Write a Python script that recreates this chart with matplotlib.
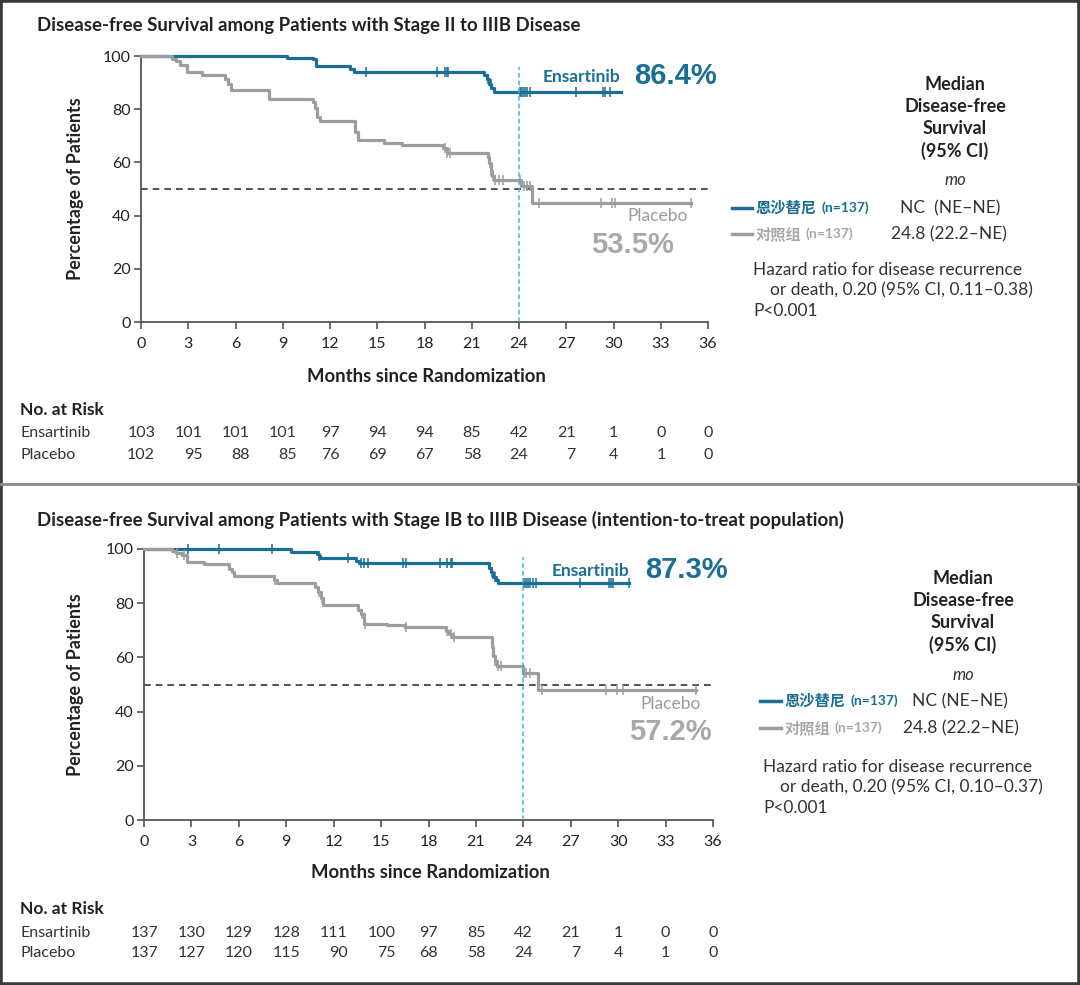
import numpy as np
import matplotlib
matplotlib.use("Agg")
import matplotlib.pyplot as plt
from matplotlib import font_manager as fm
from matplotlib.transforms import blended_transform_factory
from matplotlib.patches import Rectangle
from matplotlib.lines import Line2D

# ---------------- Daten ----------------
month_ticks = list(range(0, 37, 3))
pct_ticks = [0, 20, 40, 60, 80, 100]

# Panel A: Stage II bis IIIB
ens_a_t = [0, 9.3, 10.9, 11.1, 13.3, 13.5, 21.8, 21.95, 22.1, 22.25, 22.4, 30.5]
ens_a_s = [100, 99.3, 98.8, 96.1, 95.0, 94.0, 92.8, 91.2, 89.5, 87.8, 86.4, 86.4]
ens_a_cens = [14.3, 18.8, 19.3, 19.4, 19.5, 22.0, 22.2, 24.05, 24.15, 24.25, 24.35,
              24.5, 24.7, 27.6, 29.35, 29.45, 29.8]
pbo_a_t = [0, 1.95, 2.2, 2.5, 2.9, 3.9, 5.35, 5.5, 5.7, 8.1, 10.9, 11.05, 11.2, 11.35,
           13.6, 13.75, 15.4, 16.6, 19.2, 19.4, 22.0, 22.1, 22.2, 22.3, 22.4, 24.1,
           24.85, 34.9]
pbo_a_s = [100, 99.0, 98.0, 96.5, 94.0, 93.0, 91.5, 89.5, 87.1, 84.0, 82.8, 80.3, 76.9,
           75.5, 71.5, 68.4, 67.4, 66.4, 65.3, 63.4, 62.2, 59.7, 56.6, 55.0, 53.5, 51.0,
           44.9, 44.9]
pbo_a_cens = [19.3, 19.45, 19.6, 22.15, 22.25, 22.35, 22.5, 22.7, 23.0, 24.05, 24.3,
              24.5, 24.7, 25.3, 29.2, 29.9, 30.1, 34.9]
risk_a_ens = [103, 101, 101, 101, 97, 94, 94, 85, 42, 21, 1, 0, 0]
risk_a_pbo = [102, 95, 88, 85, 76, 69, 67, 58, 24, 7, 4, 1, 0]

# Panel B: Stage IB bis IIIB (ITT)
ens_b_t = [0, 9.27, 10.96, 11.05, 11.15, 13.4, 13.6, 21.8, 21.95, 22.1, 22.25, 22.4, 30.7]
ens_b_s = [100, 99.0, 98.2, 97.4, 96.6, 95.5, 94.7, 93.0, 91.4, 89.8, 88.5, 87.3, 87.3]
ens_b_cens = [2.8, 4.75, 8.1, 11.1, 12.9, 13.7, 13.9, 14.2, 16.4, 16.6, 18.7, 19.2, 19.4,
              19.5, 22.0, 22.2, 24.05, 24.15, 24.3, 24.45, 24.6, 24.8, 27.6, 29.4, 29.55,
              29.7, 30.7]
pbo_b_t = [0, 1.8, 2.05, 2.4, 2.75, 3.8, 5.4, 5.55, 5.7, 8.2, 8.4, 10.85, 11.0, 11.2,
           11.3, 13.55, 13.7, 13.9, 15.4, 16.5, 19.1, 19.3, 19.5, 22.0, 22.1, 22.2,
           22.35, 24.0, 24.9, 34.9]
pbo_b_s = [100, 99.1, 98.5, 97.9, 95.1, 94.5, 92.6, 91.4, 90.1, 88.5, 87.3, 85.8, 84.0,
           82.1, 79.3, 77.5, 76.0, 72.5, 71.9, 71.1, 69.8, 68.6, 67.4, 63.7, 60.6, 58.7,
           56.9, 54.4, 48.0, 48.0]
pbo_b_cens = [2.1, 2.5, 8.3, 11.1, 11.25, 13.8, 14.0, 16.6, 19.2, 19.4, 19.6, 22.2, 22.3,
              22.4, 22.6, 24.05, 24.2, 24.4, 25.2, 29.2, 29.9, 30.3, 34.9]
risk_b_ens = [137, 130, 129, 128, 111, 100, 97, 85, 42, 21, 1, 0, 0]
risk_b_pbo = [137, 127, 120, 115, 90, 75, 68, 58, 24, 7, 4, 1, 0]

# ---------------- Stil ----------------
W, H = 1080, 985
BLUE = "#1b6e95"
GREY = "#9d9d9d"
GREY_TXT = "#a8a8a8"
DARK = "#222222"
SPINE = "#555555"
CYAN = "#45b5c8"

_names = {f.name for f in fm.fontManager.ttflist}
BASE = "Lato" if "Lato" in _names else "DejaVu Sans"
BIG = "Liberation Sans Narrow" if "Liberation Sans Narrow" in _names else "Liberation Sans"
CJK = "Noto Sans CJK SC"
plt.rcParams["font.family"] = [BASE, CJK, "DejaVu Sans"]

fig = plt.figure(figsize=(W / 100, H / 100), dpi=100)
fig.patch.set_facecolor("white")


def fx(x):
    return x / W


def fy(y):
    return 1 - y / H


def ftext(x, y, s, **kw):
    kw.setdefault("color", DARK)
    kw.setdefault("va", "center")
    return fig.text(fx(x), fy(y), s, **kw)


def surv_at(t, s, c):
    i = np.searchsorted(t, c, side="right") - 1
    return np.asarray(s)[i]


def draw_panel(box, title, title_y, xlab_y, risk_y, ens, pbo, risk, vline_top,
               lab, side):
    left, top, right, bottom = box
    ax = fig.add_axes([fx(left), fy(bottom), fx(right - left), (bottom - top) / H])
    ftext(37, title_y, title, fontsize=13.4, fontweight="bold", ha="left")

    # Kurven: blau zuerst, grau darüber (wie im Original 0-2 Monate)
    for (t, s, cens), col in ((ens, BLUE), (pbo, GREY)):
        ax.step(t, s, where="post", color=col, lw=2.3, clip_on=False, zorder=3)
        cy = surv_at(np.asarray(t), s, np.asarray(cens))
        ax.plot(cens, cy, ls="none", marker="|", ms=7, mew=1.1, color=col,
                clip_on=False, zorder=4)

    ax.axhline(50, color="#333333", lw=1.2, ls=(0, (4, 3)), zorder=2)
    ax.plot([24, 24], [0, vline_top], color=CYAN, lw=1.1, ls=(0, (3, 2)), zorder=5)

    ax.set_xlim(0, 36)
    ax.set_ylim(0, 100)
    ax.set_xticks(month_ticks)
    ax.set_yticks(pct_ticks)
    for sp in ("top", "right"):
        ax.spines[sp].set_visible(False)
    for sp in ("left", "bottom"):
        ax.spines[sp].set_color(SPINE)
        ax.spines[sp].set_linewidth(1.3)
    ax.tick_params(direction="out", length=5, width=1.2, color=SPINE,
                   labelsize=11.5, labelcolor=DARK, pad=2.5)
    ax.tick_params(axis="x", pad=5.5)
    ax.set_facecolor("none")

    ftext(75, (top + bottom) / 2, "Percentage of Patients", fontsize=13,
          fontweight="bold", rotation=90, ha="center")
    ftext((left + right) / 2 + 2, xlab_y, "Months since Randomization", fontsize=13.3,
          fontweight="bold", ha="center")

    # No. at Risk
    ftext(20, risk_y[0], "No. at Risk", fontsize=12.5, fontweight="bold", ha="left")
    tr = blended_transform_factory(ax.transData, fig.transFigure)
    for row, (name, vals) in enumerate((("Ensartinib", risk[0]), ("Placebo", risk[1]))):
        y = risk_y[row + 1]
        ftext(20, y, name, fontsize=11.5, ha="left", color="#333333")
        for k, m in enumerate(month_ticks):
            nd = max(len(str(risk[0][k])), len(str(risk[1][k])))
            ax.annotate(str(vals[k]), xy=(m, fy(y)), xycoords=tr,
                        xytext=(nd * 3.4, 0), textcoords="offset points",
                        ha="right", va="center", fontsize=11.5, color="#333333",
                        annotation_clip=False)

    # Beschriftungen im Plot
    ftext(*lab["ens"], "Ensartinib", fontsize=12.5, fontweight="bold", color=BLUE,
          ha="right")
    ftext(*lab["ens_pct"], lab["ens_val"], fontsize=21, fontweight="bold", color=BLUE,
          ha="left", family=BIG)
    ftext(*lab["pbo"], "Placebo", fontsize=12.5, color="#9a9a9a", ha="right")
    ftext(*lab["pbo_pct"], lab["pbo_val"], fontsize=21, fontweight="bold",
          color=GREY_TXT, ha="right", family=BIG)

    # Rechte Seite: Median / Legende / HR
    cx, hy = side["cx"], side["hy"]
    for i, s in enumerate(["Median", "Disease-free", "Survival", "(95% CI)"]):
        ftext(cx, hy[i], s, fontsize=13, fontweight="bold", ha="center")
    ftext(cx, side["mo_y"], "mo", fontsize=12, style="italic", ha="center",
          color="#333333")
    lx0, lx1, tx = side["lx"]
    for (y, col, cn, n, val, vx, w) in (
            (side["ly"][0], BLUE, "恩沙替尼", "(n=137)", side["ens_val"], side["vx"][0], BLUE),
            (side["ly"][1], GREY, "对照组", "(n=137)", "24.8 (22.2–NE)", side["vx"][1], GREY_TXT)):
        fig.add_artist(Line2D([fx(lx0), fx(lx1)], [fy(y), fy(y)], color=col, lw=2.5))
        ftext(tx, y, cn, fontsize=11, fontweight="bold", color=w, ha="left",
              family=[CJK, "DejaVu Sans"])
        ftext(tx + len(cn) * 15.3 + 4, y, n, fontsize=10, fontweight="bold",
              color=w, ha="left")
        ftext(vx, y, val, fontsize=12.5, ha="left", color="#333333")
    hx, hyy = side["hx"], side["hr_y"]
    ftext(hx, hyy[0], "Hazard ratio for disease recurrence", fontsize=12.5, ha="left",
          color="#333333")
    ftext(hx + 17, hyy[1], side["hr"], fontsize=12.5, ha="left", color="#333333")
    ftext(hx, hyy[2], "P<0.001", fontsize=12.5, ha="left", color="#333333")
    return ax


draw_panel(
    (141, 56, 708, 322),
    "Disease-free Survival among Patients with Stage II to IIIB Disease", 25, 376,
    (410, 433, 455),
    (ens_a_t, ens_a_s, ens_a_cens), (pbo_a_t, pbo_a_s, pbo_a_cens),
    (risk_a_ens, risk_a_pbo), 96,
    {"ens": (620, 77), "ens_pct": (634, 76), "ens_val": "86.4%",
     "pbo": (688, 216), "pbo_pct": (674, 245), "pbo_val": "53.5%"},
    {"cx": 955, "hy": (84, 106, 129, 151), "mo_y": 180, "ly": (208, 234),
     "lx": (732, 752, 756), "vx": (900, 891), "ens_val": "NC  (NE–NE)",
     "hx": 753, "hr_y": (270, 290, 311),
     "hr": "or death, 0.20 (95% CI, 0.11–0.38)"},
)

draw_panel(
    (144, 549, 713, 820),
    "Disease-free Survival among Patients with Stage IB to IIIB Disease (intention-to-treat population)",
    520, 873, (909, 933, 953),
    (ens_b_t, ens_b_s, ens_b_cens), (pbo_b_t, pbo_b_s, pbo_b_cens),
    (risk_b_ens, risk_b_pbo), 97,
    {"ens": (629, 571), "ens_pct": (645, 570), "ens_val": "87.3%",
     "pbo": (701, 704), "pbo_pct": (712, 732), "pbo_val": "57.2%"},
    {"cx": 963, "hy": (578, 600, 622, 645), "mo_y": 675, "ly": (701, 728),
     "lx": (760, 781, 785), "vx": (912, 903), "ens_val": "NC (NE–NE)",
     "hx": 763, "hr_y": (767, 787, 808),
     "hr": "or death, 0.20 (95% CI, 0.10–0.37)"},
)

# Trennlinie und Rahmen
fig.add_artist(Line2D([0, 1], [fy(484), fy(484)], color="#8a8a8a", lw=2))
fig.add_artist(Rectangle((0, 0), 1, 1, transform=fig.transFigure, fill=False,
                         ec="#3a3a3a", lw=4))

fig.savefig("out.png", dpi=100, facecolor="white")
